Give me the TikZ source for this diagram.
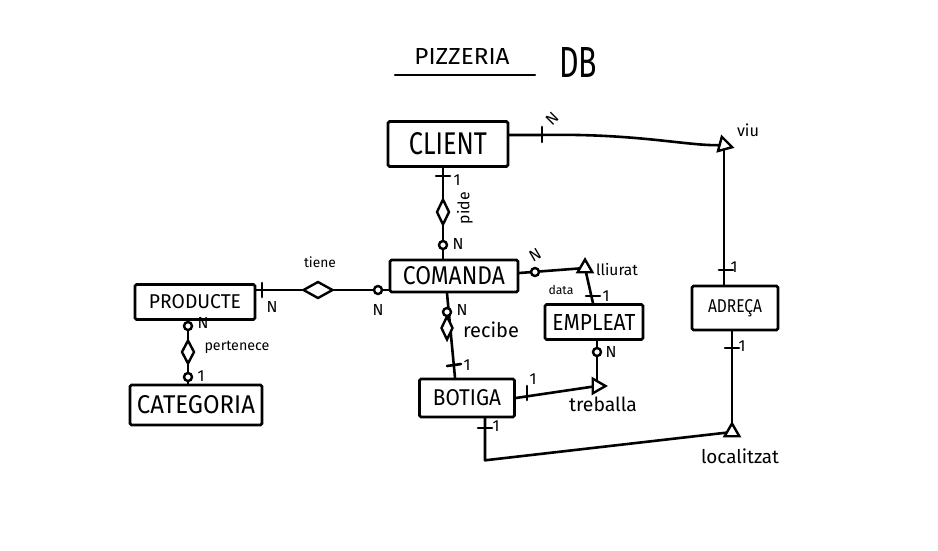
\documentclass[tikz,border=0pt]{standalone}
\usepackage{fontspec}
\setmainfont{Fira Sans}
\usetikzlibrary{shapes.geometric,calc}
% text squeezed to a given width (and optionally height), like hand lettering
\newcommand{\hw}[2]{\resizebox{#1pt}{!}{#2}}
\newcommand{\hwh}[3]{\resizebox{#1pt}{#2pt}{#3}}
\begin{document}
\begin{tikzpicture}[x=1pt,y=-1pt,
  ink/.style={line width=2.6pt,line cap=round,line join=round},
  entity/.style={draw,line width=2.6pt,rectangle,rounded corners=1.5pt,inner sep=0pt,fill=white},
  rel/.style={draw,line width=2.4pt,diamond,inner sep=0pt,fill=white},
  relt/.style={draw,line width=2.4pt,regular polygon,regular polygon sides=3,inner sep=0pt,minimum size=17pt,fill=white},
  opt/.style={draw,line width=2.4pt,circle,inner sep=0pt,minimum size=8pt,fill=white},
  card/.style={inner sep=0pt,font=\fontsize{16}{16}\selectfont},
  lbl/.style={inner sep=0pt}
]
\useasboundingbox[fill=white] (0,0) rectangle (938,550);

% title
\node[lbl] (title) at (462,56) {\hwh{95}{16}{PIZZERIA}};
\draw[ink,line width=2.4pt] (395,75) -- (535,75);
\node[lbl] (db) at (578,62) {\hwh{38}{30}{DB}};

% entities
\node[entity,minimum width=120pt,minimum height=45pt] (client) at (448,144) {\hwh{78}{22}{CLIENT}};
\node[entity,minimum width=128pt,minimum height=32pt] (comanda) at (454,276) {\hwh{102}{18}{COMANDA}};
\node[entity,minimum width=120pt,minimum height=35pt] (producte) at (195,302) {\hwh{92}{14}{PRODUCTE}};
\node[entity,minimum width=132pt,minimum height=40pt] (categoria) at (196,405) {\hwh{118}{18}{CATEGORIA}};
\node[entity,minimum width=98pt,minimum height=35pt] (empleat) at (594,322) {\hwh{83}{16}{EMPLEAT}};
\node[entity,minimum width=95pt,minimum height=38pt] (botiga) at (467,398) {\hwh{68}{16}{BOTIGA}};
\node[entity,minimum width=86pt,minimum height=44pt] (adreca) at (735,308) {\hwh{54}{13}{ADREÇA}};

% relationship positions
\coordinate (pideP) at (443,212);
\coordinate (viuP) at (724,145);
\coordinate (tieneP) at (318,290);
\coordinate (pertP) at (188,352);
\coordinate (recP) at (447,328);
\coordinate (lliP) at (585,268);
\coordinate (trebP) at (597,386);
\coordinate (locP) at (732,432);

% connectors
\draw[ink] ($(client.east)+(0,-9)$) -- (540,135) .. controls (640,133) and (690,147) .. (viuP);
\draw[ink] (viuP) -- (viuP |- adreca.north);
\draw[ink] (locP |- adreca.south) -- (locP);
\draw[ink] ($(botiga.south)+(18,0)$) -- ++(0,42) coordinate (bc) -- (locP);
\draw[ink] (pideP |- client.south) -- (pideP |- comanda.north);
\draw[ink] (comanda.west |- tieneP) -- (tieneP) -- (producte.east |- tieneP);
\draw[ink] (pertP |- producte.south) -- (pertP |- categoria.north);
\draw[ink] (recP |- comanda.south) -- ($(recP |- botiga.north)+(8,0)$);
\draw[ink] ($(comanda.east)+(0,-3)$) -- (lliP);
\draw[ink] (lliP) -- ($(lliP |- empleat.north)+(8,0)$);
\draw[ink] (trebP |- empleat.south) -- (trebP);
\draw[ink] (botiga.east) -- (trebP);

% relationship symbols
\node[rel,minimum width=13pt,minimum height=26pt] (pide) at (pideP) {};
\node[relt,rotate=15] (viu) at (viuP) {};
\node[rel,minimum width=30pt,minimum height=17pt] (tiene) at (tieneP) {};
\node[rel,minimum width=13pt,minimum height=24pt] (pertenece) at (pertP) {};
\node[rel,minimum width=12pt,minimum height=24pt] (recibe) at (recP) {};
\node[relt] (lliurat) at (lliP) {};
\node[relt,rotate=-90] (treballa) at (trebP) {};
\node[relt] (localitzat) at (locP) {};

% relationship names
\node[lbl,rotate=90] (tpide) at (465,208) {\hw{32}{pide}};
\node[lbl] (tviu) at (748,130) {\hw{22}{viu}};
\node[lbl] (ttiene) at (320,262) {\hw{32}{tiene}};
\node[lbl] (tpert) at (237,347) {\hw{65}{pertenece}};
\node[lbl] (trec) at (491,330) {\hw{56}{recibe}};
\node[lbl] (tlli) at (617,270) {\hw{42}{lliurat}};
\node[lbl] (tdata) at (561,290) {\hw{25}{data}};
\node[lbl] (ttreb) at (603,404) {\hw{68}{treballa}};
\node[lbl] (tloc) at (740,456) {\hw{78}{localitzat}};

% participation marks and cardinalities
% CLIENT -- viu
\draw[ink] (542,127) -- (542,142);
\node[card,rotate=45] (c1) at (552,119) {N};
% viu -- ADREÇA
\draw[ink] (719,270) -- (733,270);
\node[card] (c2) at (734,267) {1};
% ADREÇA -- localitzat
\draw[ink] (725,348) -- (739,348);
\node[card] (c3) at (742,346) {1};
% BOTIGA -- localitzat
\draw[ink] (478,428) -- (492,428);
\node[card] (c4) at (496,426) {1};
% CLIENT -- pide -- COMANDA
\draw[ink] (436,176) -- (450,176);
\node[card] (c5) at (457,180) {1};
\node[opt] (o1) at (443,245) {};
\node[card] (c6) at (458,244) {N};
% COMANDA -- tiene -- PRODUCTE
\node[opt] (o2) at (378,290) {};
\node[card] (c7) at (378,310) {N};
\draw[ink] (262,283) -- (262,297);
\node[card] (c8) at (272,307) {N};
% PRODUCTE -- pertenece -- CATEGORIA
\node[opt] (o3) at (188,326) {};
\node[card] (c9) at (203,323) {N};
\node[opt] (o4) at (188,377) {};
\node[card] (c10) at (201,376) {1};
% COMANDA -- recibe -- BOTIGA
\node[opt] (o5) at (447,312) {};
\node[card] (c11) at (462,310) {N};
\draw[ink] (447,366) -- (461,364);
\node[card] (c12) at (467,365) {1};
% COMANDA -- lliurat -- EMPLEAT
\node[opt] (o6) at (535,272) {};
\node[card,rotate=30] (c13) at (535,255) {N};
\draw[ink] (586,296) -- (600,296);
\node[card] (c14) at (606,296) {1};
% EMPLEAT -- treballa -- BOTIGA
\node[opt] (o7) at (597,352) {};
\node[card] (c15) at (611,352) {N};
\draw[ink] (527,386) -- (527,400);
\node[card] (c16) at (533,379) {1};
\end{tikzpicture}
\end{document}
